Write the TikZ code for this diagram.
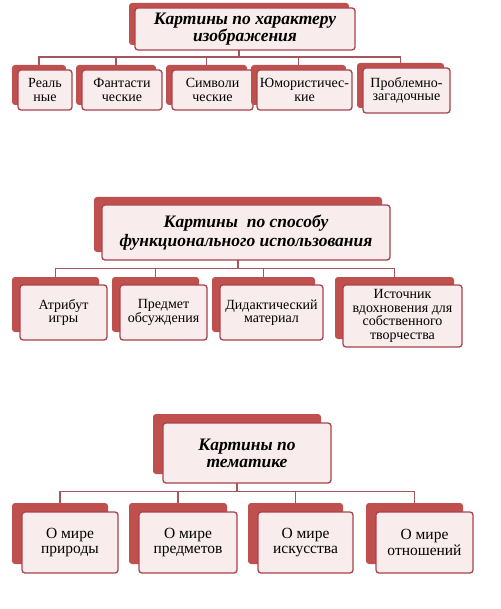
\documentclass[tikz,border=0pt]{standalone}
\usepackage{fontspec}
\setmainfont{Liberation Serif}
\usetikzlibrary{positioning, calc, backgrounds}
\definecolor{KartRed}{HTML}{C0504D}
\definecolor{KartDark}{HTML}{A8434B}
\definecolor{KartPink}{HTML}{F8ECEC}
\definecolor{KartLine}{HTML}{A4565C}
\tikzset{
    % red back boxes
    backbox/.style 2 args={
        rectangle,
        rounded corners=3pt,
        fill=KartRed,
        minimum width=#1pt,
        minimum height=#2pt,
        inner sep=0pt
    },
    % light front boxes with text
    frontbox/.style 2 args={
        rectangle,
        rounded corners=3pt,
        draw=KartDark,
        line width=1.3pt,
        fill=KartPink,
        minimum width=#1pt,
        minimum height=#2pt,
        inner sep=1pt,
        align=center
    },
    headtext/.style 2 args={font=\fontsize{#1}{#2}\selectfont\bfseries\itshape},
    kidtext/.style 2 args={font=\fontsize{#1}{#2}\selectfont},
    % connectors
    link/.style={
        draw=KartLine,
        line width=1.4pt
    }
}

\begin{document}
\begin{tikzpicture}[x=1pt, y=-1pt]
    \useasboundingbox (0,0) rectangle (500,609);

    % By character of the image
    \node[backbox={220}{42}] (k1) at (239,24) {};
    \node[frontbox={220}{42}, headtext={17.5}{16.5}] (k1t) at ([shift={(6,5)}]k1.center) {Картины по характеру\\изображения};
    \node[backbox={54}{40}] (k1a) at (39,85) {};
    \node[frontbox={54}{40}, kidtext={14}{13.5}] (k1at) at ([shift={(6,5)}]k1a.center) {Реаль\\ные};
    \node[backbox={80}{40}] (k1b) at (116,85) {};
    \node[frontbox={80}{40}, kidtext={14}{13.5}] (k1bt) at ([shift={(6,5)}]k1b.center) {Фантасти\\ческие};
    \node[backbox={81}{40}] (k1c) at (206.5,85) {};
    \node[frontbox={81}{40}, kidtext={14}{13.5}] (k1ct) at ([shift={(6,5)}]k1c.center) {Символи\\ческие};
    \node[backbox={95}{40}] (k1d) at (298.5,85) {};
    \node[frontbox={95}{40}, kidtext={14}{13.5}] (k1dt) at ([shift={(6,5)}]k1d.center) {Юмористичес-\\кие};
    \node[backbox={87}{45}] (k1e) at (400.5,85.5) {};
    \node[frontbox={87}{45}, kidtext={14}{13.5}] (k1et) at ([shift={(6,5)}]k1e.center) {Проблемно-\\загадочные};

    % By way of functional use
    \node[backbox={288}{55}] (k2) at (238,224.5) {};
    \node[frontbox={288}{55}, headtext={17.5}{18.5}] (k2t) at ([shift={(8,8)}]k2.center) {Картины\ \ по способу\\функционального использования};
    \node[backbox={87}{55}] (k2a) at (55.5,304.5) {};
    \node[frontbox={87}{55}, kidtext={14}{13.5}] (k2at) at ([shift={(8,8)}]k2a.center) {Атрибут\\игры};
    \node[backbox={87}{55}] (k2b) at (155.5,304.5) {};
    \node[frontbox={87}{55}, kidtext={14}{13.5}] (k2bt) at ([shift={(8,8)}]k2b.center) {Предмет\\обсуждения};
    \node[backbox={103}{55}] (k2c) at (263.5,304.5) {};
    \node[frontbox={103}{55}, kidtext={14}{13.5}] (k2ct) at ([shift={(8,8)}]k2c.center) {Дидактический\\материал};
    \node[backbox={119}{62}] (k2d) at (394.5,308) {};
    \node[frontbox={119}{62}, kidtext={14}{13.7}] (k2dt) at ([shift={(8,8)}]k2d.center) {Источник\\вдохновения для\\собственного\\творчества};

    % By theme
    \node[backbox={168}{60}] (k3) at (237,444) {};
    \node[frontbox={168}{60}, headtext={17.5}{17}] (k3t) at ([shift={(10,9)}]k3.center) {Картины по\\тематике};
    \node[backbox={96}{61}] (k3a) at (60,533.5) {};
    \node[frontbox={96}{61}, kidtext={15.5}{15.5}] (k3at) at ([shift={(10,9)}]k3a.center) {О мире\\природы};
    \node[backbox={98}{61}] (k3b) at (178,533.5) {};
    \node[frontbox={98}{61}, kidtext={15.5}{15.5}] (k3bt) at ([shift={(10,9)}]k3b.center) {О мире\\предметов};
    \node[backbox={95}{61}] (k3c) at (295.5,533.5) {};
    \node[frontbox={95}{61}, kidtext={15.5}{15.5}] (k3ct) at ([shift={(10,9)}]k3c.center) {О мире\\искусства};
    \node[backbox={97}{61}] (k3d) at (414.5,533.5) {};
    \node[frontbox={97}{61}, kidtext={15.5}{15.5}] (k3dt) at ([shift={(10,9)}]k3d.center) {О мире\\отношений};

    % connectors behind the boxes
    \begin{scope}[on background layer]
        \foreach \kid in {k1a, k1b, k1c, k1d, k1e}
            \draw[link] (k1.south) -- ++(0,12) -| (\kid.north);
        \foreach \kid in {k2a, k2b, k2c, k2d}
            \draw[link] (k2.south) -- ++(0,16) -| (\kid.north);
        \foreach \kid in {k3a, k3b, k3c, k3d}
            \draw[link] (k3.south) -- ++(0,17) -| (\kid.north);
    \end{scope}
\end{tikzpicture}
\end{document}
